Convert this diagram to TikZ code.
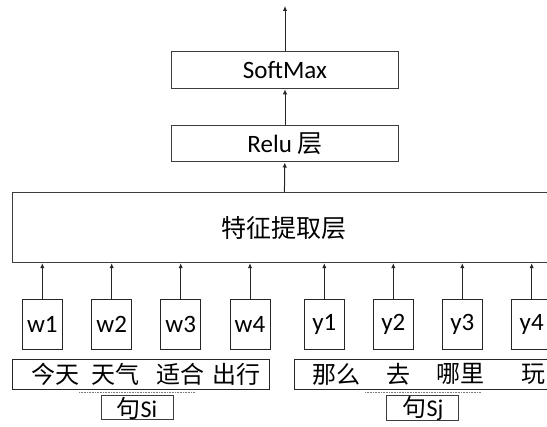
\documentclass[tikz,border=0pt]{standalone}
\usepackage{fontspec}
\setmainfont{Carlito}
\newfontfamily\cjk{Noto Sans CJK SC}
\usetikzlibrary{arrows.meta}
\definecolor{edge}{HTML}{3C3C3C}
\definecolor{hint}{HTML}{7A7A7A}

\begin{document}
\begin{tikzpicture}[
  x=1pt,y=-1pt,
  >=Latex,
  flow/.style={-{Latex[length=5pt,width=4.5pt]},line width=1pt,draw=black!85},
  layer/.style={draw=edge,line width=1pt,minimum width=227pt,minimum height=37pt,
    inner sep=0pt,font=\fontsize{25}{28}\selectfont},
  token/.style={draw=black!85,line width=1pt,minimum width=40pt,minimum height=50pt,
    inner sep=0pt,font=\fontsize{25}{28}\selectfont},
  sentence/.style={draw=black!85,line width=1pt,minimum width=257pt,minimum height=30pt,inner sep=0pt},
  word/.style={inner sep=0pt,font=\cjk\fontsize{24}{26}\selectfont},
  tag/.style={draw=edge,line width=1pt,minimum width=72pt,minimum height=24pt,
    inner sep=0pt,font=\fontsize{24}{26}\selectfont},
  under/.style={draw=hint,line width=0.8pt,dash pattern=on 1pt off 0.6pt}
]
\useasboundingbox (0,0) rectangle (547,427);
% stacked layers
\node[layer] (soft) at (285,70.3) {SoftMax};
\node[layer,minimum height=36pt] (relu) at (285,144) {Relu {\cjk 层}};
\node[layer,minimum width=543pt,minimum height=70pt,font=\cjk\fontsize{25}{28}\selectfont] (feat) at (284,227.7) {特征提取层};
\coordinate (out) at (285,6);
% word vectors
\node[token] (w1) at (42.3,324.3) {w1};
\node[token] (w2) at (111.7,324.3) {w2};
\node[token] (w3) at (180.7,324.3) {w3};
\node[token] (w4) at (250,324.3) {w4};
\node[token] (y1) at (324.3,324.3) {y1};
\node[token] (y2) at (393.3,324.3) {y2};
\node[token] (y3) at (462.3,324.3) {y3};
\node[token] (y4) at (531.7,324.3) {y4};
% sentences
\node[sentence] (si) at (140.8,374.2) {};
\node[word] (si1) at (55.8,374.2) {今天};
\node[word] (si2) at (115,374.2) {天气};
\node[word] (si3) at (180,374.2) {适合};
\node[word] (si4) at (236.7,374.2) {出行};
\node[sentence] (sj) at (422.8,374.2) {};
\node[word] (sj1) at (336.7,374.2) {那么};
\node[word] (sj2) at (398,374.2) {去};
\node[word] (sj3) at (460,374.2) {哪里};
\node[word] (sj4) at (533,374.2) {玩};
\node[tag] (labi) at (137,408) {{\cjk 句}Si};
\node[tag] (labj) at (422.9,408) {{\cjk 句}Sj};
\coordinate (ui) at (79,392.7);
\coordinate (vi) at (195,392.7);
\coordinate (uj) at (365,392.7);
\coordinate (vj) at (480.7,392.7);
\draw[under] (ui) -- (vi);
\draw[under] (uj) -- (vj);
% arrows
\draw[flow] (w1) -- (w1 |- feat.south);
\draw[flow] (w2) -- (w2 |- feat.south);
\draw[flow] (w3) -- (w3 |- feat.south);
\draw[flow] (w4) -- (w4 |- feat.south);
\draw[flow] (y1) -- (y1 |- feat.south);
\draw[flow] (y2) -- (y2 |- feat.south);
\draw[flow] (y3) -- (y3 |- feat.south);
\draw[flow] (y4) -- (y4 |- feat.south);
\draw[flow] (feat) -- (relu);
\draw[flow] (relu) -- (soft);
\draw[flow] (soft) -- (out);
\end{tikzpicture}
\end{document}
